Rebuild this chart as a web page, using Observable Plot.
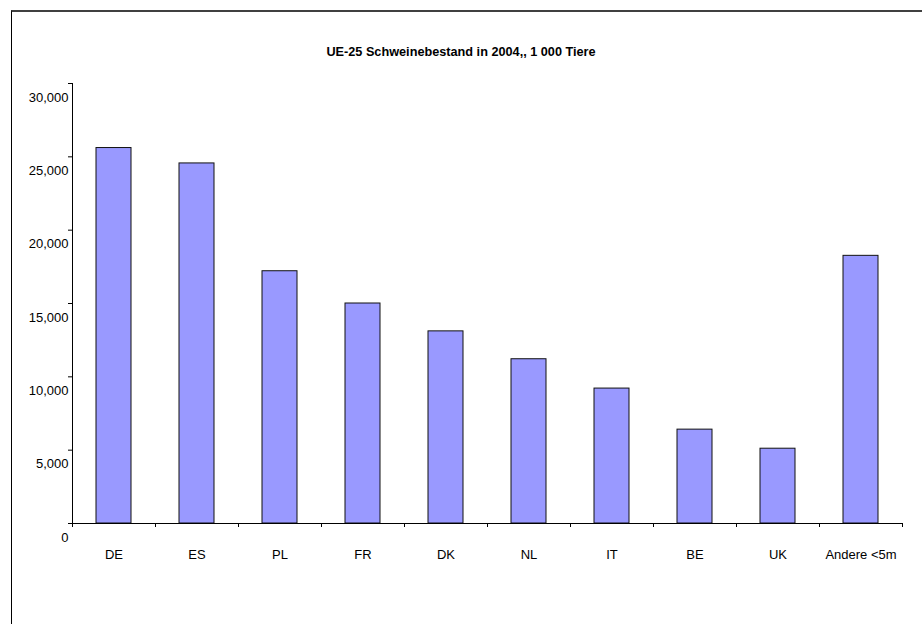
<!DOCTYPE html>
<html><head><meta charset="utf-8">
<script src="https://cdn.jsdelivr.net/npm/d3@7"></script>
<script src="https://cdn.jsdelivr.net/npm/@observablehq/plot@0.6"></script>
<style>
body{margin:0;background:#fff;font-family:"Liberation Sans",Arial,sans-serif;}
#wrap{position:relative;width:922px;height:624px;overflow:hidden;background:#fff;}
#title{box-sizing:border-box;height:60px;padding-top:45px;text-align:center;font-weight:bold;font-size:12.7px;line-height:14px;color:#000;}
#frame{position:absolute;left:11px;top:10px;width:1000px;height:1000px;border-top:2px solid #404040;border-left:1px solid #000;pointer-events:none;}
#chart svg{display:block;}
</style>
</head><body>
<div id="wrap">
<div id="title">UE-25 Schweinebestand in 2004,, 1 000 Tiere</div>
<div id="chart"></div>
<div id="frame"></div>
</div>
<script>
const categories = ["DE","ES","PL","FR","DK","NL","IT","BE","UK","Andere <5m"];
const values = [25600, 24550, 17200, 15000, 13100, 11200, 9200, 6400, 5100, 18250];
const yTicks = [0, 5000, 10000, 15000, 20000, 25000, 30000];

const boundaries = d3.range(categories.length + 1);

const chart = Plot.plot({
  width: 922,
  height: 564,
  marginTop: 23,
  marginBottom: 101,
  marginLeft: 72,
  marginRight: 20,
  style: {fontFamily: "'Liberation Sans', Arial, sans-serif", fontSize: "13px", color: "#000", background: "none"},
  x: {domain: [0, categories.length], axis: null},
  y: {domain: [0, 30000], axis: null},
  marks: [
    Plot.rectY(values, {x1: (d, i) => i, x2: (d, i) => i + 1, y: d => d, insetLeft: 24, insetRight: 24, fill: "#9999ff", stroke: "#111", strokeWidth: 1}),
    Plot.ruleY([0], {stroke: "#000"}),
    Plot.ruleX([0], {stroke: "#000"}),
    Plot.axisX(boundaries, {tickSize: 4, tickFormat: () => "", label: null}),
    Plot.text(categories, {x: (d, i) => i + 0.5, frameAnchor: "bottom", dy: 35, text: d => d, fill: "#000"}),
    Plot.axisY(yTicks, {tickSize: 4, tickFormat: () => "", label: null}),
    Plot.text(yTicks, {y: d => d, frameAnchor: "left", textAnchor: "end", dx: -4, dy: 14, text: d3.format(","), fill: "#000"})
  ]
});
document.getElementById("chart").appendChild(chart);
</script>
</body></html>
